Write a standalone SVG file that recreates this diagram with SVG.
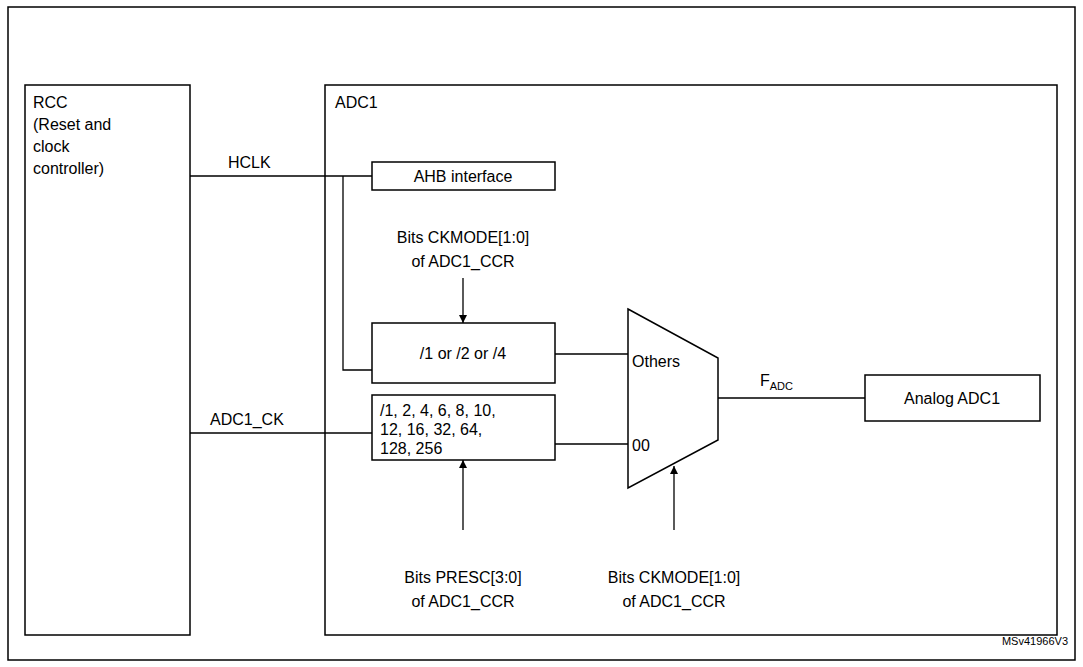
<svg xmlns="http://www.w3.org/2000/svg" width="1083" height="667" viewBox="0 0 1083 667">
<style>
text{font-family:"Liberation Sans",Arial,sans-serif;font-size:16px;fill:#000}
.b{fill:#fff;stroke:#000;stroke-width:1.5}
.l{fill:none;stroke:#000;stroke-width:1.3}
.m{text-anchor:middle}
</style>
<defs><marker id="a" viewBox="0 0 10 10" refX="10" refY="5" markerWidth="8" markerHeight="12" markerUnits="userSpaceOnUse" orient="auto"><path d="M0,0L10,5L0,10z" fill="#000"/></marker></defs>
<rect x="0" y="0" width="1083" height="667" fill="#fff"/>
<rect x="8" y="7" width="1067" height="653" fill="none" stroke="#000" stroke-width="1.5"/>
<g id="rcc"><rect class="b" x="25" y="85" width="165" height="550"/>
<text x="33" y="108">RCC</text><text x="33" y="130">(Reset and</text><text x="33" y="152">clock</text><text x="33" y="174">controller)</text></g>
<g id="adc1"><rect class="b" x="325" y="85" width="732" height="550"/><text x="335" y="108">ADC1</text></g>
<g id="ahb"><rect class="b" x="372" y="162" width="183" height="28"/><text class="m" x="463" y="182">AHB interface</text></g>
<g id="div"><rect class="b" x="372" y="323" width="183" height="60"/><text class="m" x="463" y="359">/1 or /2 or /4</text></g>
<g id="presc"><rect class="b" x="372" y="395" width="183" height="65"/><text x="380" y="416">/1, 2, 4, 6, 8, 10,</text><text x="380" y="435">12, 16, 32, 64,</text><text x="380" y="454">128, 256</text></g>
<g id="mux"><path class="b" d="M628,309L718,358L718,440L628,488z"/><text x="632" y="367">Others</text><text x="632" y="451">00</text></g>
<g id="analog"><rect class="b" x="865" y="375" width="175" height="46"/><text class="m" x="952" y="404">Analog ADC1</text></g>
<g id="connectors">
<path class="l" d="M190,176H372M343,176V370H372"/>
<path class="l" d="M190,433H372"/>
<path class="l" d="M555,354H628M555,444H628M718,398H865"/>
<path class="l" d="M463,278V323" marker-end="url(#a)"/>
<path class="l" d="M463,530V460" marker-end="url(#a)"/>
<path class="l" d="M674,530V466" marker-end="url(#a)"/>
</g>
<text x="228" y="168">HCLK</text>
<text x="210" y="425">ADC1_CK</text>
<text x="760" y="386">F<tspan font-size="11" dy="4">ADC</tspan></text>
<text class="m" x="463" y="243">Bits CKMODE[1:0]</text><text class="m" x="463" y="267">of ADC1_CCR</text>
<text class="m" x="463" y="583">Bits PRESC[3:0]</text><text class="m" x="463" y="607">of ADC1_CCR</text>
<text class="m" x="674" y="583">Bits CKMODE[1:0]</text><text class="m" x="674" y="607">of ADC1_CCR</text>
<text x="1068" y="645" text-anchor="end" font-size="11" style="font-size:11px">MSv41966V3</text>
</svg>
